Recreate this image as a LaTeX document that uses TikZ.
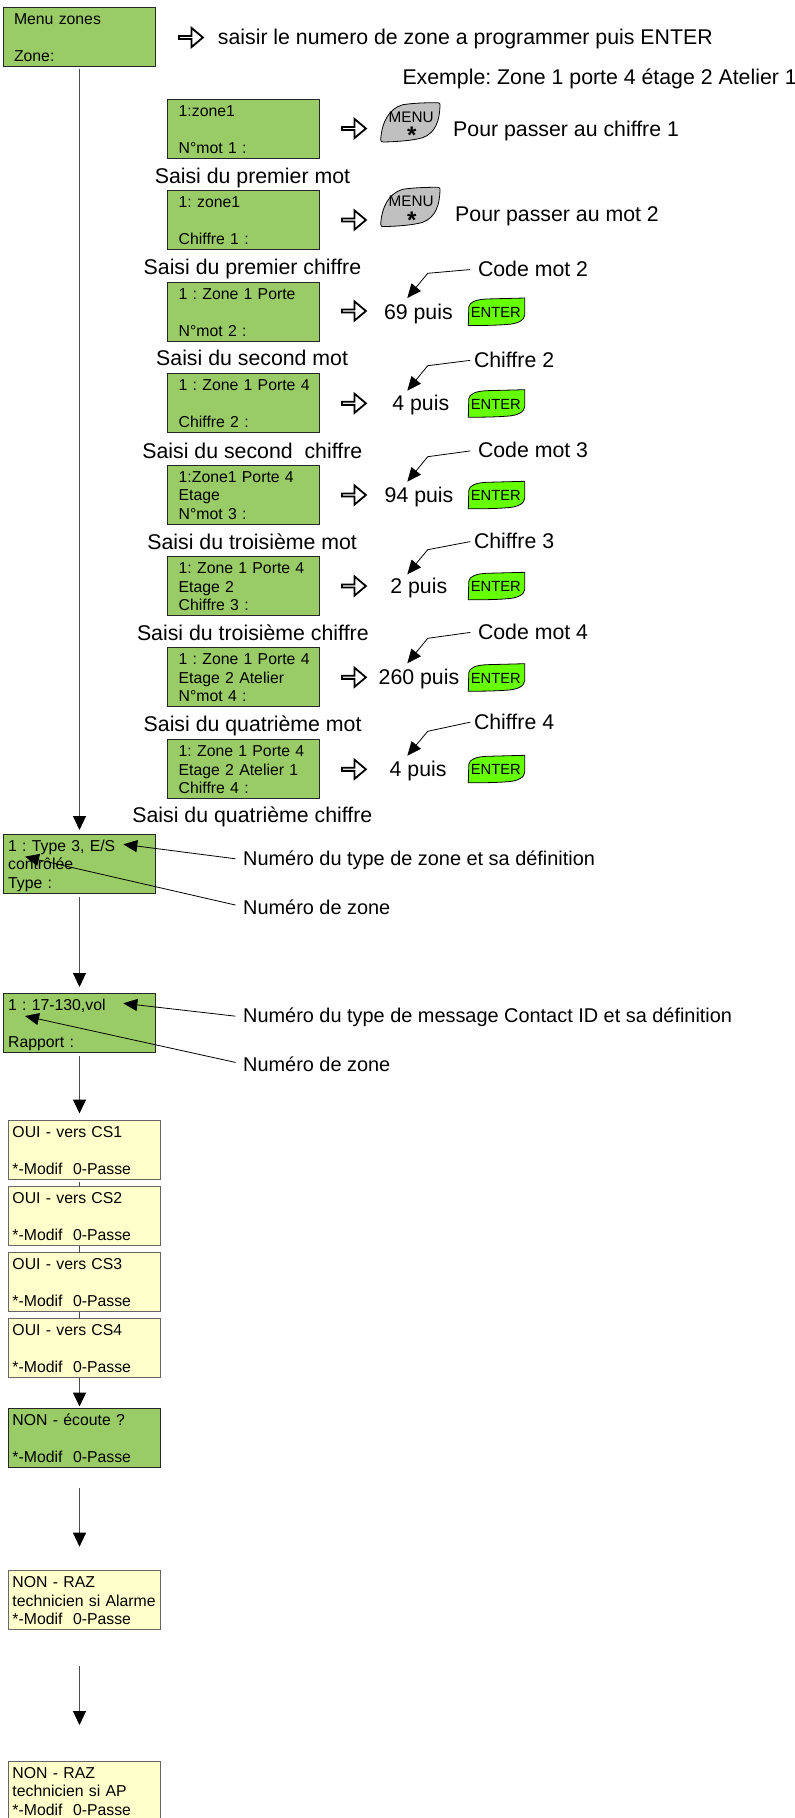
\documentclass[tikz,border=0pt]{standalone}
\usepackage{fontspec}
\setmainfont{Liberation Sans}
\usetikzlibrary{arrows.meta,shapes.arrows}

\definecolor{lcdgreen}{HTML}{99CC66}
\definecolor{lcdyellow}{HTML}{FFFFCC}
\definecolor{keygray}{HTML}{C0C0C0}
\definecolor{keygreen}{HTML}{66FF00}

\newcommand{\boxfont}{\frenchspacing\fontsize{15.8}{18.5}\selectfont}
\newcommand{\notefont}{\frenchspacing\fontsize{21.3}{24}\selectfont}
\newcommand{\smallnotefont}{\frenchspacing\fontsize{19.9}{24}\selectfont}

\tikzset{
  lcdbox/.style={rectangle, draw=black!85, fill=lcdgreen, line width=1pt, anchor=north west,
    minimum width=152pt, minimum height=59pt, inner ysep=0pt, outer sep=0pt,
    inner xsep=#1, text width=152pt-2*#1, align=left, font=\boxfont,
    execute at begin node={\rule{0pt}{17.2pt}},
    execute at end node={\rule[-5pt]{0pt}{5pt}}},
  csbox/.style={lcdbox=#1, draw=black!60, fill=lcdyellow},
  note/.style={anchor=base west, inner sep=0pt, font=\notefont},
  blockarrow/.style={single arrow, draw, fill=white, line width=1.8pt, anchor=tail,
    minimum width=19pt, minimum height=24pt, inner sep=0pt,
    single arrow head extend=4.5pt, single arrow tip angle=80},
  flow/.style={draw=black!70, line width=1.1pt,
    -{Triangle[length=14pt,width=13pt,black]}},
  flowline/.style={draw=black!70, line width=1.1pt},
  leader/.style={black, line width=0.8pt, shorten <=7.6pt,
    -{Triangle[length=14pt,width=12pt]}},
  menukey/.pic={
    \draw[fill=keygray, line width=0.8pt] (0,37) .. controls (1,20) and (8,6) .. (22,2)
      .. controls (35,0) and (50,0) .. (57,0) .. controls (59,0) and (59.3,1) .. (59.3,2)
      .. controls (59,18) and (55,30) .. (42,35) .. controls (32,38) and (15,39) .. (3,39.3)
      .. controls (1,39.3) and (0,39) .. (0,37) -- cycle;
    \node[inner sep=0pt, font=\fontsize{15.3}{16}\selectfont] (-label) at (30.5,14.5) {MENU};
    \node[inner sep=0pt, font=\fontsize{24}{24}\selectfont\bfseries] (-star) at (31,33) {*};
  },
  enterkey/.pic={
    \draw[fill=keygreen, line width=0.8pt] (0,27.5) -- (0.5,9) .. controls (1,4) and (8,1.5) .. (18,1)
      -- (56.4,0) -- (56.4,17) .. controls (56,22) and (50,26) .. (38,26.5)
      .. controls (25,27.5) and (12,27.5) .. (0,27.5) -- cycle;
    \node[inner sep=0pt, font=\fontsize{14.7}{16}\selectfont] (-label) at (27.5,14.3) {ENTER};
  }
}

\begin{document}
\begin{tikzpicture}[x=1pt, y=-1pt]
\useasboundingbox (0,0) rectangle (795,1818);

% left column
\path
(3.5,7.3) node[lcdbox=10.5pt](menu) {Menu zones\\[18.5pt]Zone:}
(3.5,834) node[lcdbox=4.6pt](type) {1 : Type 3, E/S\\contrôlée\\Type :}
(3.5,993) node[lcdbox=4.6pt](rapport) {1 : 17-130,vol\\[18.5pt]Rapport :}
(8,1120.5) node[csbox=4.5pt](csA) {OUI - vers CS1\\[18.5pt]{*}-Modif\ \ 0-Passe}
(8,1186.5) node[csbox=4.5pt](csB) {OUI - vers CS2\\[18.5pt]{*}-Modif\ \ 0-Passe}
(8,1252.5) node[csbox=4.5pt](csC) {OUI - vers CS3\\[18.5pt]{*}-Modif\ \ 0-Passe}
(8,1318.5) node[csbox=4.5pt](csD) {OUI - vers CS4\\[18.5pt]{*}-Modif\ \ 0-Passe}
(8,1408.5) node[lcdbox=4.5pt](ecoute) {NON - écoute ?\\[18.5pt]{*}-Modif\ \ 0-Passe}
(8,1570.7) node[csbox=4.5pt](razA) {NON - RAZ\\\mbox{technicien si Alarme}\\{*}-Modif\ \ 0-Passe}
(8,1761) node[csbox=4.5pt](razB) {NON - RAZ\\technicien si AP\\{*}-Modif\ \ 0-Passe};

%% Arrows of the left column
\draw[flow, shorten <=2.3pt, shorten >=4pt] (menu.south) -- (type.north);
\draw[flow, shorten <=4pt, shorten >=6pt] (type.south) -- (rapport.north);
\draw[flow, shorten <=3.7pt, shorten >=7pt] (rapport.south) -- (rapport.south |- csA.north);
\draw[flowline, shorten <=2.7pt] (rapport.south |- csA.south) -- (rapport.south |- csB.north);
\draw[flowline] (rapport.south |- csB.south) -- (rapport.south |- csC.north);
\draw[flowline] (rapport.south |- csC.south) -- (rapport.south |- csD.north);
\draw[flow, shorten >=2pt] (rapport.south |- csD.south) -- (rapport.south |- ecoute.north);
\draw[flow, shorten <=20pt, shorten >=24pt] (rapport.south |- ecoute.south) -- (rapport.south |- razA.north);
\draw[flow, shorten <=36pt, shorten >=36pt] (rapport.south |- razA.south) -- (rapport.south |- razB.north);

% inner column
\path
(167.5,99) node[lcdbox=11.2pt](motA) {1:zone1\\[18.5pt]N°mot 1 :}
(167.5,190.7) node[lcdbox=11.2pt](chifA) {1: zone1\\[18.5pt]Chiffre 1 :}
(167.5,282) node[lcdbox=11.2pt](motB) {1 : Zone 1 Porte\\[18.5pt]N°mot 2 :}
(167.5,373.7) node[lcdbox=11.2pt](chifB) {\mbox{1 : Zone 1 Porte 4}\\[18.5pt]Chiffre 2 :}
(167.5,465) node[lcdbox=11.2pt](motC) {1:Zone1 Porte 4\\Etage\\N°mot 3 :}
(167.5,556.7) node[lcdbox=11.2pt](chifC) {1: Zone 1 Porte 4\\Etage 2\\Chiffre 3 :}
(167.5,647.7) node[lcdbox=11.2pt](motD) {\mbox{1 : Zone 1 Porte 4}\\Etage 2 Atelier\\N°mot 4 :}
(167.5,739.3) node[lcdbox=11.2pt](chifD) {1: Zone 1 Porte 4\\Etage 2 Atelier 1\\Chiffre 4 :};

%% captions under the boxes
\path
(154.6,183.5) node[note](capMotA) {Saisi du premier mot}
(143.5,274.8) node[note](capChifA) {Saisi du premier chiffre}
(156,365.8) node[note](capMotB) {Saisi du second mot}
(142.2,458) node[note](capChifB) {Saisi du second\ \ chiffre}
(147.2,549) node[note](capMotC) {Saisi du troisième mot}
(136.8,640.8) node[note](capChifC) {Saisi du troisième chiffre}
(143.5,731.8) node[note](capMotD) {Saisi du quatrième mot}
(132.2,822.5) node[note](capChifD) {Saisi du quatrième chiffre};

%% block arrows
\path
(178,37.5) node[blockarrow](arrowTop) {}
(341,128.5) node[blockarrow](arrowA) {}
(341,220) node[blockarrow](arrowB) {}
(341,311) node[blockarrow](arrowC) {}
(341,403.3) node[blockarrow](arrowD) {}
(341,495) node[blockarrow](arrowE) {}
(341,586) node[blockarrow](arrowF) {}
(341,677.3) node[blockarrow](arrowG) {}
(341,769.3) node[blockarrow](arrowH) {};

%% texts on the right
\path
(217.7,44.3) node[note](saisir) {saisir le numero de zone a programmer puis ENTER}
(402.3,84) node[note](exemple) {Exemple: Zone 1 porte 4 étage 2 Atelier 1}
(453,136) node[note](passerA) {Pour passer au chiffre 1}
(455,221.3) node[note](passerB) {Pour passer au mot 2}
(383.8,319) node[note](valC) {69 puis}
(392.2,410.8) node[note](valD) {4 puis}
(384.5,502.5) node[note](valE) {94 puis}
(390.2,593.8) node[note](valF) {2 puis}
(378.5,684.5) node[note](valG) {260 puis}
(389.5,776.3) node[note](valH) {4 puis};

%% keys
\pic (keyA) at (380.7,102.7) {menukey};
\pic (keyB) at (380.7,187.3) {menukey};
\pic (enterC) at (468.3,298) {enterkey};
\pic (enterD) at (468.3,389.7) {enterkey};
\pic (enterE) at (468.3,481.3) {enterkey};
\pic (enterF) at (468.3,572.3) {enterkey};
\pic (enterG) at (468.3,663.7) {enterkey};
\pic (enterH) at (468.3,755.3) {enterkey};

%% Leaders to the values
\path
(477.8,276.5) node[note](lblC) {Code mot 2}
(473.8,367.5) node[note](lblD) {Chiffre 2}
(477.8,457.5) node[note](lblE) {Code mot 3}
(473.8,548.5) node[note](lblF) {Chiffre 3}
(477.8,639) node[note](lblG) {Code mot 4}
(473.8,729) node[note](lblH) {Chiffre 4};
\coordinate (tipC) at (407.3,298);
\coordinate (tipD) at (407.3,390.7);
\coordinate (tipE) at (407.3,481.7);
\coordinate (tipF) at (407.3,574.3);
\coordinate (tipG) at (407.3,663.3);
\coordinate (tipH) at (407.3,755.7);
\draw[leader] (lblC.west) -- (427.7,273.3) -- (tipC);
\draw[leader, shorten <=3.6pt] (lblD.west) -- (427.7,365.7) -- (tipD);
\draw[leader] (lblE.west) -- (427.7,456.7) -- (tipE);
\draw[leader, shorten <=3.6pt] (lblF.west) -- (427.7,549.7) -- (tipF);
\draw[leader] (lblG.west) -- (427.7,638.3) -- (tipG);
\draw[leader, shorten <=3.6pt] (lblH.west) -- (427.7,731.3) -- (tipH);

%% Leaders into the boxes
\path
(243,865) node[note, font=\smallnotefont](typeText) {Numéro du type de zone et sa définition}
(243,914) node[note, font=\smallnotefont](zoneTextA) {Numéro de zone}
(243,1022.3) node[note, font=\smallnotefont](rapportText) {Numéro du type de message Contact ID et sa définition}
(243,1071.3) node[note, font=\smallnotefont](zoneTextB) {Numéro de zone};
\coordinate (tipType) at (123.3,844.3);
\coordinate (tipZoneA) at (25,856.7);
\coordinate (tipRapport) at (123.3,1003.3);
\coordinate (tipZoneB) at (25,1016);
\draw[leader] (typeText.west) -- (tipType);
\draw[leader] (zoneTextA.west) -- (tipZoneA);
\draw[leader] (rapportText.west) -- (tipRapport);
\draw[leader] (zoneTextB.west) -- (tipZoneB);

\end{tikzpicture}
\end{document}
